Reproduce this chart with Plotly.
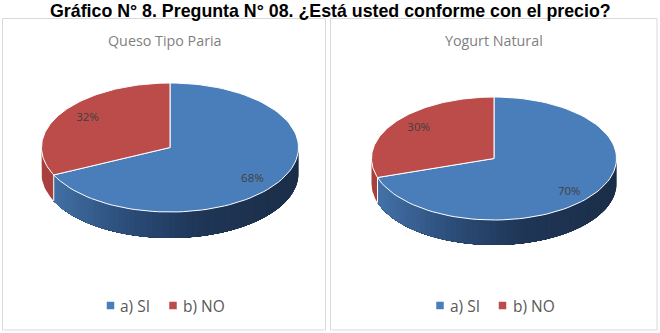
import math
import plotly.graph_objects as go

categories = ["a) SI", "b) NO"]
queso_values = [68, 32]
yogurt_values = [70, 30]
main_title = "Gráfico N° 8. Pregunta N° 08. ¿Está usted conforme con el precio?"
queso_title = "Queso Tipo Paria"
yogurt_title = "Yogurt Natural"

TOP_COLORS = ["#4a7ebb", "#bb4c49"]
RED_SIDE = "#a8413e"
SANS = "Open Sans, sans-serif"

fig = go.Figure()


def arc(cx, cy, rx, ry, a0, a1, n=90):
    """Points along an ellipse, angles in degrees clockwise from twelve o'clock."""
    pts = [a0 + (a1 - a0) * i / n for i in range(n + 1)]
    xs = [cx + rx * math.sin(math.radians(a)) for a in pts]
    ys = [cy - ry * math.cos(math.radians(a)) for a in pts]
    return xs, ys


def mix(c0, c1, t):
    return "rgb({},{},{})".format(*[round(a + (b - a) * t) for a, b in zip(c0, c1)])


def blue_shade(t):
    # wall shading runs from mid blue on the left to deep navy on the right
    stops = [(0.0, (70, 118, 172)), (0.35, (43, 76, 120)), (0.62, (31, 54, 87)), (1.0, (27, 46, 72))]
    for (t0, c0), (t1, c1) in zip(stops, stops[1:]):
        if t <= t1:
            return mix(c0, c1, (t - t0) / (t1 - t0))
    return mix(stops[-1][1], stops[-1][1], 0)


def polygon(xs, ys, fill, line=None, width=0):
    fig.add_trace(go.Scatter(
        x=xs, y=ys, mode="lines", fill="toself", fillcolor=fill,
        line=dict(color=line or fill, width=width),
        hoverinfo="skip", showlegend=False,
    ))


def pie3d(values, cx, cy, rx, ry, depth):
    total = sum(values)
    split = 360 * values[0] / total

    # outer wall: only the front of the rim shows; each band is painted over
    # the previous one so the shading has no seams
    bands = 60
    for i in range(bands):
        a0 = 90 + (split - 90) * i / bands
        xs, ys = arc(cx, cy, rx, ry, a0, split, 60)
        shade_x = (xs[0] - (cx - rx)) / (2 * rx)
        polygon(xs + xs[::-1], ys + [y + depth for y in ys[::-1]], blue_shade(shade_x))
    xs, ys = arc(cx, cy, rx, ry, split, 270, 12)
    polygon(xs + xs[::-1], ys + [y + depth for y in ys[::-1]], RED_SIDE)

    # seam on the wall where the two slices meet
    sx, sy = arc(cx, cy, rx, ry, split, split, 1)
    fig.add_trace(go.Scatter(
        x=[sx[0], sx[0]], y=[sy[0], sy[0] + depth], mode="lines",
        line=dict(color="white", width=1), hoverinfo="skip", showlegend=False,
    ))

    # top face
    xs, ys = arc(cx, cy, rx, ry, 0, split)
    polygon([cx] + xs + [cx], [cy] + ys + [cy], TOP_COLORS[0], "white", 1)
    xs, ys = arc(cx, cy, rx, ry, split, 360)
    polygon([cx] + xs + [cx], [cy] + ys + [cy], TOP_COLORS[1], "white", 1)

    # percentage labels at each slice's mid angle
    angle = 0
    for v in values:
        mid = angle + 180 * v / total
        angle += 360 * v / total
        fig.add_trace(go.Scatter(
            x=[cx + 0.76 * rx * math.sin(math.radians(mid))],
            y=[cy - 0.88 * ry * math.cos(math.radians(mid)) + 1.5],
            mode="text", text=[f"{v}%"],
            textfont=dict(family=SANS, size=11.5, color="#404040"),
            hoverinfo="skip", showlegend=False,
        ))


def legend_keys(key_x, text_x, y):
    for name, color, kx, tx in zip(categories, TOP_COLORS, key_x, text_x):
        fig.add_trace(go.Scatter(
            x=[kx], y=[y], mode="markers",
            marker=dict(symbol="square", size=7.5, color=color),
            hoverinfo="skip", showlegend=False,
        ))
        fig.add_annotation(x=tx, y=y, text=name, showarrow=False, xanchor="left",
                           font=dict(family=SANS, size=15.5, color="#595959"))


pie3d(queso_values, 170, 147.5, 128.5, 64.5, 26)
pie3d(yogurt_values, 494, 158.5, 122.5, 61.5, 25)
legend_keys([110.5, 173], [118, 181], 305.5)
legend_keys([440, 502.5], [448, 511], 305.5)

panels = [(2.5, 18.5, 325.5, 330), (330.5, 18.5, 657, 330)]
shapes = [dict(type="rect", x0=a, y0=b, x1=c, y1=d, xref="x", yref="y",
               line=dict(color="#d9d9d9", width=1), layer="below") for a, b, c, d in panels]

fig.add_annotation(x=330, y=10.5, text=f"<b>{main_title}</b>", showarrow=False, borderpad=0,
                   font=dict(family="Liberation Sans, Arial, sans-serif", size=17.8, color="#000000"))
fig.add_annotation(x=164.5, y=40, text=queso_title, showarrow=False,
                   font=dict(family=SANS, size=14.3, color="#7f7f7f"))
fig.add_annotation(x=494, y=40, text=yogurt_title, showarrow=False,
                   font=dict(family=SANS, size=14.3, color="#7f7f7f"))

fig.update_layout(
    width=660, height=333, margin=dict(l=0, r=0, t=0, b=0),
    paper_bgcolor="white", plot_bgcolor="white", showlegend=False, shapes=shapes,
    xaxis=dict(range=[0, 660], visible=False, fixedrange=True),
    yaxis=dict(range=[333, 0], visible=False, fixedrange=True),
)
fig.write_html("out.html", config=dict(displayModeBar=False))
